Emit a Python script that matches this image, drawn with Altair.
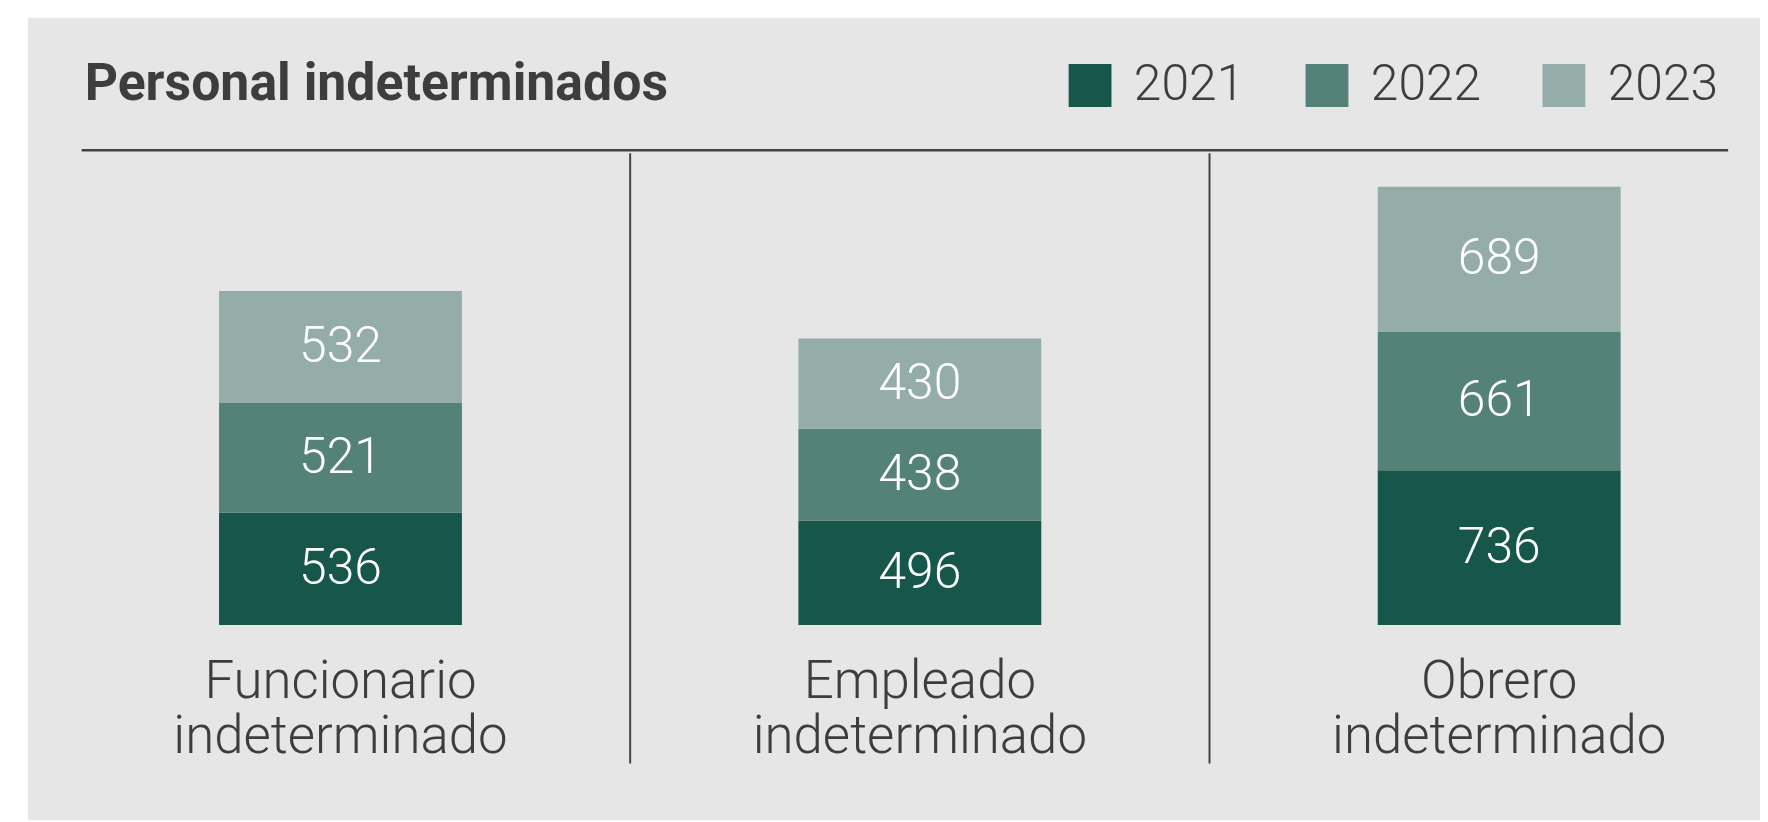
import altair as alt
import pandas as pd

categories = ["Funcionario indeterminado", "Empleado indeterminado", "Obrero indeterminado"]
years = ["2021", "2022", "2023"]
values_2021 = [536, 496, 736]
values_2022 = [521, 438, 661]
values_2023 = [532, 430, 689]
colors = ["#17574b", "#548278", "#94ada8"]

rows = []
for yr, vals in zip(years, [values_2021, values_2022, values_2023]):
    for c, v in zip(categories, vals):
        rows.append({"categoria": c, "anio": yr, "valor": v})
df = pd.DataFrame(rows)
div_df = pd.DataFrame({"categoria": categories[:-1]})

FONT = "Roboto"
TXT = "#3d3d3d"
W, H = 1644, 475

xscale = alt.Scale(domain=categories, range=[-31, 1715], paddingInner=0, paddingOuter=0)
yscale = alt.Scale(domain=[0, 2250], nice=False)

xaxis = alt.Axis(title=None, domain=False, ticks=False, grid=False, labelAngle=0,
                 labelExpr="split(datum.label, ' ')", labelFont=FONT, labelFontSize=53,
                 labelFontWeight=300, labelColor=TXT, labelBaseline="alphabetic",
                 labelPadding=73, labelLineHeight=55, labelLimit=600, zindex=1)

bg = alt.Chart(pd.DataFrame({"k": [0]})).mark_rect(color="#e6e6e6").encode(
    x=alt.value(-54), x2=alt.value(1686), y=alt.value(-135), y2=alt.value(671)
)

hline = alt.Chart(pd.DataFrame({"k": [0]})).mark_rule(color="#444444", strokeWidth=2.5).encode(
    x=alt.value(0), x2=alt.value(1654), y=alt.value(-2)
)

dividers = alt.Chart(div_df).mark_rule(color="#444444", strokeWidth=2).encode(
    x=alt.X("categoria:N", scale=xscale, axis=xaxis, bandPosition=1),
    y=alt.value(1), y2=alt.value(614)
)

base = alt.Chart(df).transform_stack(
    stack="valor", groupby=["categoria"], as_=["y0", "y1"],
    sort=[alt.SortField("anio", order="ascending")]
).transform_calculate(mid="(datum.y0 + datum.y1) / 2")

bars = base.mark_bar(width={"band": 244 / 582}).encode(
    x=alt.X("categoria:N", scale=xscale, axis=xaxis),
    y=alt.Y("y1:Q", scale=yscale, axis=None),
    y2="y0:Q",
    color=alt.Color("anio:N", scale=alt.Scale(domain=years, range=colors),
                    legend=alt.Legend(title=None, orient="none", legendX=988, legendY=-92,
                                      direction="horizontal", symbolType="square",
                                      symbolSize=1849, symbolStrokeWidth=0, symbolOpacity=1,
                                      labelFont=FONT, labelFontSize=50, labelFontWeight=300,
                                      labelColor=TXT, labelOffset=19, columnPadding=58,
                                      labelLimit=300)),
)

labels = base.mark_text(font=FONT, fontSize=50, fontWeight=300, color="white",
                        baseline="middle", align="center").encode(
    x=alt.X("categoria:N", scale=xscale, axis=xaxis),
    y=alt.Y("mid:Q", scale=yscale, axis=None),
    text="valor:Q",
)

chart = alt.layer(bg, hline, dividers, bars, labels).properties(
    width=W, height=H,
    title=alt.TitleParams("Personal indeterminados", anchor="start", frame="group",
                          font=FONT, fontSize=52, fontWeight="bold", color=TXT,
                          baseline="alphabetic", dx=3, dy=93, offset=-42),
    autosize=alt.AutoSizeParams(type="none"),
    padding={"left": 74, "top": 143, "right": 42, "bottom": 196},
    background="white",
).configure_view(stroke=None)

chart.save("out.html", embed_options={"renderer": "svg", "actions": False})
